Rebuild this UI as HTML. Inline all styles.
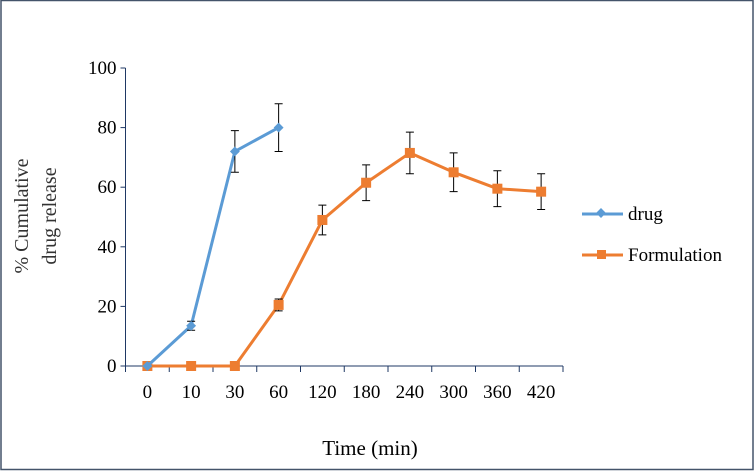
<!DOCTYPE html>
<html><head><meta charset="utf-8"><style>
html,body{margin:0;padding:0;background:#fff}
svg{display:block}
svg text{font-family:"Liberation Serif",serif;fill:#000}
</style></head><body>
<svg id="chart" width="755" height="471" viewBox="0 0 755 471">
<rect x="1" y="0.5" width="752" height="469" fill="#fff" stroke="#44546a" stroke-width="1.5"/>
<g id="grid"></g>
<g id="series"></g>
<text transform="translate(36,216) rotate(-90)" text-anchor="middle" font-size="20" style="fill:#333"><tspan x="0" dy="-8">% Cumulative</tspan><tspan x="0" dy="28">drug release</tspan></text>
<text x="370" y="455" text-anchor="middle" font-size="21">Time (min)</text>
<g>
<g>
<line x1="582" y1="214" x2="623" y2="214" stroke="#5b9bd5" stroke-width="3"/>
<rect x="597.5" y="209.5" width="7" height="7" fill="#5b9bd5" transform="rotate(45 601 213)"/>
<text x="628" y="220" font-size="19">drug</text>
</g>
<g>
<line x1="582" y1="255" x2="623" y2="255" stroke="#ed7d31" stroke-width="3"/>
<rect x="597" y="250" width="9" height="9" fill="#ed7d31"/>
<text x="628" y="261" font-size="19">Formulation</text>
</g>
</g>
</svg>
<script>
const categories=["0","10","30","60","120","180","240","300","360","420"];
const drugValues=[0,13.5,72,80];
const drugErrors=[0,1.5,7,8];
const formValues=[0,0,0,20.5,49,61.5,71.5,65,59.5,58.5];
const formErrors=[0,0,0,2,5,6,7,6.5,6,6];
const yTicks=[0,20,40,60,80,100];

const NS="http://www.w3.org/2000/svg";
const X0=125.5,X1=563,Y0=366,Y1=68;
const band=(X1-X0)/categories.length;
const xs=i=>X0+band*(i+0.5);
const ys=v=>Y0-(v/100)*(Y0-Y1);
function mk(tag,attrs,parent){const e=document.createElementNS(NS,tag);for(const k in attrs)e.setAttribute(k,attrs[k]);parent.appendChild(e);return e;}
const grid=document.getElementById('grid'),ser=document.getElementById('series');
const axc="#1f3864";
let a=mk('line',{x1:X0,y1:Y1,x2:X0,y2:Y0,stroke:axc,'stroke-width':1},grid);


a=mk('line',{x1:X0,y1:Y0,x2:X1,y2:Y0,stroke:axc,'stroke-width':1},grid);


yTicks.forEach(t=>{
 mk('line',{x1:X0-5,y1:ys(t),x2:X0,y2:ys(t),stroke:axc},grid);
 const tx=mk('text',{x:X0-9,y:ys(t)+6,'text-anchor':'end','font-size':19},grid);
 tx.textContent=t;
 
 
});
for(let i=0;i<=categories.length;i++){mk('line',{x1:X0+band*i,y1:Y0,x2:X0+band*i,y2:Y0+6,stroke:axc},grid);}
categories.forEach((c,i)=>{
 const tx=mk('text',{x:xs(i),y:Y0+32,'text-anchor':'middle','font-size':19},grid);
 tx.textContent=c;
 
 
});
function draw(vals,errs,color,name,shape){
 const g=mk('g',{},ser);
 
 
 mk('polyline',{points:vals.map((v,i)=>xs(i)+','+ys(v)).join(' '),fill:'none',stroke:color,'stroke-width':3,'stroke-linejoin':'round'},g);
 vals.forEach((v,i)=>{
  const e=errs[i];
  if(e>0){
   const eb=mk('path',{d:`M${xs(i)},${ys(v+e)}V${ys(v-e)}M${xs(i)-4},${ys(v+e)}H${xs(i)+4}M${xs(i)-4},${ys(v-e)}H${xs(i)+4}`,stroke:'#000','stroke-width':1,fill:'none'},g);
   
   
  }
  let m;
  if(shape==='diamond'){m=mk('rect',{x:xs(i)-3.5,y:ys(v)-3.5,width:7,height:7,fill:color,transform:`rotate(45 ${xs(i)} ${ys(v)})`},g);}
  else{m=mk('rect',{x:xs(i)-5,y:ys(v)-5,width:10,height:10,fill:color},g);}
  
  
 });
}
draw(formValues,formErrors,'#ed7d31','formulation','square');
draw(drugValues,drugErrors,'#5b9bd5','drug','diamond');
</script>
</body></html>
